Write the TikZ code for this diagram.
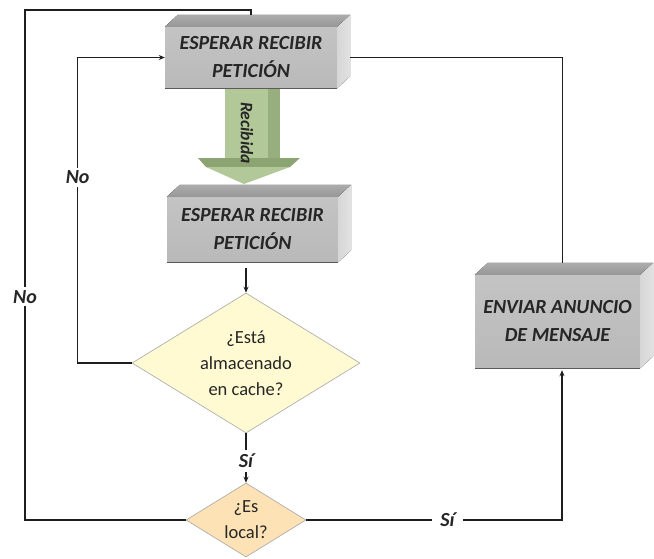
\documentclass[tikz,border=0pt]{standalone}
\usepackage{fontspec}
\setmainfont{Carlito}
\usetikzlibrary{calc,arrows.meta,shapes.geometric}

\definecolor{frontgray}{HTML}{B9B9B9}
\definecolor{topgray}{HTML}{979797}
\definecolor{sidegray}{HTML}{D6D6D6}
\definecolor{edgegray}{HTML}{5A5A5A}
\definecolor{greenfront}{HTML}{B2C898}
\definecolor{greenside}{HTML}{97AF7E}
\definecolor{greentop}{HTML}{8CA372}
\definecolor{cachefill}{HTML}{FFFAD2}
\definecolor{localfill}{HTML}{FCE2B4}
\definecolor{inkline}{HTML}{1E1E1E}

% front face of a solid block, with its top and right faces added afterwards
\newcommand\blockfaces[1]{%
  \fill[top color=topgray!80!white, bottom color=topgray]
    (#1.north west) -- ++(13,-12) -- ($(#1.north east)+(13,-12)$) -- (#1.north east) -- cycle;
  \fill[left color=sidegray, right color=sidegray!70!white]
    (#1.north east) -- ++(13,-12) -- ($(#1.south east)+(13,-12)$) -- (#1.south east) -- cycle;
  \draw[edgegray, line width=1.2pt] (#1.south west) -- (#1.south east);
}

\begin{document}
\begin{tikzpicture}[x=1pt, y=-1pt,
  block/.style={rectangle, inner sep=0pt, align=center,
    top color=frontgray!85!white, bottom color=frontgray,
    font=\fontsize{20}{28}\selectfont\bfseries\itshape, text=black!85},
  decision/.style={diamond, shape aspect=1.63, inner sep=-5pt, align=center,
    draw=black!35, line width=0.6pt,
    font=\fontsize{18.5}{26}\selectfont, text=black!85},
  conn/.style={draw=inkline, line width=1.25pt},
  arr/.style={-{Stealth[length=6pt, width=5pt]}},
  lbl/.style={fill=white, inner sep=3pt, font=\fontsize{20}{22}\selectfont\bfseries\itshape, text=black!85}]

\useasboundingbox (0,0) rectangle (654,558);

% the three blocks
\node[block, minimum width=172pt, minimum height=61pt] (b1) at (251,57.5) {ESPERAR RECIBIR\\PETICIÓN};
\blockfaces{b1}
\node[block, minimum width=171pt, minimum height=65pt] (b2) at (252.5,229.5) {ESPERAR RECIBIR\\PETICIÓN};
\blockfaces{b2}
\node[block, minimum width=165pt, minimum height=93pt] (b3) at (557.5,321.5) {ENVIAR ANUNCIO\\DE MENSAJE};
\blockfaces{b3}

\coordinate (b1top) at ($(b1.north)+(0,-12)$);
\coordinate (b1side) at ($(b1.east)+(13,0)$);
\coordinate (b3top) at ($(b3.north)+(5,-12)$);
\coordinate (b3in) at ($(b3.south)+(4.5,2)$);

% green block arrow between the first two blocks
\fill[greenside] (268,89) -- (280,89) -- (280,158) -- (268,158) -- cycle;
\fill[greenfront] (225,89) rectangle (268,160);
\fill[greentop] (198,158) -- (300,158) -- (290,167) -- (206,167) -- cycle;
\fill[greenfront] (206,167) -- (290,167) -- (244,184) -- cycle;
\node[rotate=-90, font=\fontsize{17.5}{19}\selectfont\bfseries\itshape, text=black!85] (rec) at (247,133) {Recibida};

% decisions
\node[decision, fill=cachefill, minimum width=228pt, minimum height=140pt] (d1) at (246,363)
  {¿Está\\almacenado\\en cache?};
\node[decision, fill=localfill, minimum width=120pt, minimum height=74pt] (d2) at (246,520)
  {¿Es\\local?};

% connectors
\draw[conn, arr, shorten <=6pt] (b2.south -| d1.north) -- (d1.north);
\draw[conn, arr] (d1.west) -- ++(-54,0) |- node[lbl, pos=0.304] {No} (b1.west);
\draw[conn, arr] (d1.south) -- node[lbl, pos=0.56, inner ysep=4pt] {Sí} (d2.north);
\draw[conn] (d2.west) -| node[lbl, pos=0.719] {No} (25,10) -| (b1top);
\draw[conn, arr] (d2.east) -| node[lbl, pos=0.276, inner xsep=8pt] {Sí} (b3in);
\draw[conn] (b1side) -| (b3top);

\end{tikzpicture}
\end{document}
